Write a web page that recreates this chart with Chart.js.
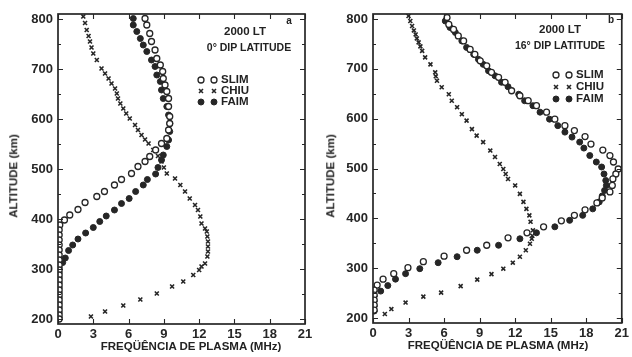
<!DOCTYPE html>
<html><head><meta charset="utf-8">
<script src="https://cdn.jsdelivr.net/npm/chart.js@4.4.1/dist/chart.umd.min.js"></script>
<style>
html,body{margin:0;padding:0;background:#fff;}
body{width:632px;height:357px;position:relative;overflow:hidden;font-family:"Liberation Sans",Arial,sans-serif;color:#222;}
.panel{position:absolute;top:0;width:316px;height:357px;}
.panel canvas{position:absolute;left:0;top:0;width:316px;height:357px;}
.t{position:absolute;font-weight:bold;white-space:nowrap;line-height:1;transform:translate(-50%,-50%);}
.l{position:absolute;font-weight:bold;white-space:nowrap;line-height:1;transform:translate(0,-50%);font-size:11.5px;}
.yt{position:absolute;font-weight:bold;white-space:nowrap;line-height:1;font-size:11.5px;transform:translate(-50%,-50%) rotate(-90deg);}
</style></head><body>
<div class="panel" style="left:0"><canvas id="ca" width="316" height="357"></canvas></div>
<div class="panel" style="left:316px"><canvas id="cb" width="316" height="357"></canvas></div>

<div class="t" style="left:245px;top:32px;font-size:11.5px">2000 LT</div>
<div class="t" style="left:249px;top:47px;font-size:10.5px">0° DIP LATITUDE</div>
<div class="t" style="left:289px;top:21px;font-size:10px">a</div>
<div class="l" style="left:221px;top:80px">SLIM</div>
<div class="l" style="left:221px;top:91px">CHIU</div>
<div class="l" style="left:221px;top:102px">FAIM</div>

<div class="t" style="left:560px;top:30px;font-size:11.5px">2000 LT</div>
<div class="t" style="left:560px;top:45px;font-size:10.5px">16° DIP LATITUDE</div>
<div class="t" style="left:611px;top:20px;font-size:10px">b</div>
<div class="l" style="left:576px;top:75px">SLIM</div>
<div class="l" style="left:576px;top:87px">CHIU</div>
<div class="l" style="left:576px;top:99px">FAIM</div>

<div class="yt" style="left:14px;top:176px">ALTITUDE (km)</div>
<div class="yt" style="left:331px;top:176px">ALTITUDE (km)</div>
<div class="t" style="left:191px;top:347px;font-size:11.5px">FREQÜÊNCIA DE PLASMA (MHz)</div>
<div class="t" style="left:498px;top:346px;font-size:11.5px">FREQÜÊNCIA DE PLASMA (MHz)</div>

<script>
// ---- tick labels ----
const xTicks = [0, 3, 6, 9, 12, 15, 18, 21];
const yTicks = [200, 300, 400, 500, 600, 700, 800];
const yMinor = [200, 250, 300, 350, 400, 450, 500, 550, 600, 650, 700, 750, 800];

// ---- panel a: 0° dip latitude (altitude km, plasma frequency MHz) ----
const slimA_alt = [801,788,771,755,738,721,708,695,681,668,655,641,625,605,591,578,561,551,538,525,515,505,491,479,468,455,445,433,419,408,398,
  388,378,368,358,348,338,328,318,308,298,288,278,268,258,248,238,228,218,208,200];
const slimA_f = [7.4,7.55,7.8,7.95,8.25,8.4,8.7,8.9,8.95,9.1,9.25,9.4,9.4,9.5,9.5,9.4,9.25,8.8,8.3,7.8,7.4,6.8,6.25,5.4,4.8,3.95,3.3,2.3,1.7,1.0,0.55,
  0.15,0.1,0.1,0.1,0.1,0.1,0.1,0.1,0.1,0.1,0.1,0.1,0.1,0.1,0.1,0.1,0.1,0.1,0.1,0.1];
const chiuA_alt = [805,792,778,766,755,743,731,718,701,691,681,671,661,651,641,631,621,611,601,588,578,568,559,551,538,526,515,503,491,481,468,455,441,428,418,405,391,381,375,365,355,345,335,325,311,305,298,288,275,265,251,239,227,215,205];
const chiuA_f = [2.15,2.3,2.44,2.6,2.72,2.85,3.0,3.3,3.7,4.0,4.3,4.55,4.85,5.0,5.1,5.3,5.55,5.8,6.1,6.55,6.8,7.1,7.4,7.7,8.1,8.5,8.8,9.0,9.25,9.95,10.4,10.8,11.2,11.65,11.9,12.1,12.2,12.5,12.65,12.7,12.75,12.75,12.75,12.7,12.5,12.2,12.0,11.5,10.65,9.7,8.4,7.0,5.55,4.0,2.8];
const faimA_alt = [801,788,775,761,748,735,718,705,688,675,658,641,625,608,591,575,558,545,528,518,503,490,479,468,455,441,431,418,406,395,383,372,360,348,337,322,313,
  303,293,283,273,263,253,243,233,223,213,203];
const faimA_f = [6.4,6.4,6.7,7.0,7.25,7.55,7.95,8.25,8.4,8.7,8.8,8.95,9.25,9.4,9.5,9.5,9.4,9.25,8.95,8.8,8.5,8.3,7.6,7.25,6.6,6.05,5.4,4.8,4.1,3.55,3.0,2.35,1.7,1.25,0.9,0.62,0.4,
  0.1,0.1,0.1,0.1,0.1,0.1,0.1,0.1,0.1,0.1,0.1];

// ---- panel b: 16° dip latitude ----
const slimB_alt = [803,789,779,766,756,739,729,716,706,693,683,673,656,646,636,626,613,599,586,576,564,549,537,526,513,499,489,479,466,453,441,431,417,406,395,383,371,361,346,336,324,313,301,289,278,266,256,246,236,226,216];
const slimB_f = [6.25,6.4,6.8,7.2,7.65,8.2,8.6,9.05,9.6,10.0,10.6,11.15,11.7,12.4,13.1,13.8,14.65,15.35,16.2,17.0,17.9,18.4,19.4,20.0,20.3,20.7,20.5,20.25,20.2,20.0,19.35,18.9,17.9,17.0,15.9,14.4,13.0,11.4,9.6,7.9,6.0,4.25,2.95,1.75,0.85,0.35,0.1,0.1,0.1,0.1,0.1];
const chiuB_alt = [806,796,786,777,769,761,753,745,736,723,709,693,685,676,663,649,636,623,609,596,579,566,553,536,523,509,499,489,479,466,449,433,419,406,393,376,365,359,349,336,323,311,299,288,277,264,251,243,231,218,208];
const chiuB_f = [3.0,3.15,3.3,3.45,3.6,3.7,3.85,4.0,4.15,4.4,4.85,5.25,5.3,5.4,5.8,6.4,6.65,7.1,7.5,7.9,8.35,8.75,9.3,9.9,10.3,10.7,11.0,11.2,11.4,12.0,12.4,12.7,12.95,13.2,13.3,13.5,13.45,13.4,13.25,12.9,12.4,11.8,11.0,10.0,8.8,7.4,5.75,4.25,2.75,1.55,1.0];
const faimB_alt = [796,783,773,756,743,729,719,709,696,686,673,664,649,636,626,613,599,586,573,563,553,541,526,513,503,489,476,466,456,445,433,419,406,396,383,371,359,346,336,323,311,299,289,278,265,254,244,234,224,214];
const faimB_f = [6.1,6.5,6.95,7.5,7.9,8.5,8.9,9.3,9.75,10.3,10.85,11.4,12.3,12.8,13.5,14.1,14.9,15.6,16.2,16.8,17.45,17.8,18.3,18.85,19.3,19.5,19.65,19.7,19.55,19.35,19.1,18.55,17.7,16.6,15.35,13.8,12.4,10.6,8.8,7.1,5.5,3.95,2.75,1.9,1.25,0.65,0.1,0.1,0.1,0.1];

const INK = '#262626';
const pts = (f, a) => f.map((v, i) => ({x: v, y: a[i]}));
const styles = {
  SLIM: {pointStyle:'circle', pointRadius:3, pointBackgroundColor:'#fff', pointBorderColor:INK, pointBorderWidth:1.3},
  CHIU: {pointStyle:'crossRot', pointRadius:2.8, pointBackgroundColor:INK, pointBorderColor:INK, pointBorderWidth:1.6},
  FAIM: {pointStyle:'circle', pointRadius:3, pointBackgroundColor:INK, pointBorderColor:INK, pointBorderWidth:1}
};

function framePlugin(legendX, legendY) {
  return {
    id: 'frame',
    afterDraw(chart) {
      const ctx = chart.ctx, a = chart.chartArea, x = chart.scales.x, y = chart.scales.y;
      ctx.save();
      ctx.strokeStyle = INK;
      ctx.lineWidth = 1.7;
      ctx.strokeRect(a.left, a.top, a.right - a.left, a.bottom - a.top);
      ctx.lineWidth = 1.1;
      ctx.beginPath();
      xTicks.forEach(v => {
        const px = Math.round(x.getPixelForValue(v)) + 0.5;
        ctx.moveTo(px, a.bottom); ctx.lineTo(px, a.bottom - 5);
        ctx.moveTo(px, a.top); ctx.lineTo(px, a.top + 5);
      });
      yMinor.forEach(v => {
        const py = Math.round(y.getPixelForValue(v)) + 0.5;
        const len = v % 100 === 0 ? 5 : 3;
        ctx.moveTo(a.left, py); ctx.lineTo(a.left + len, py);
        ctx.moveTo(a.right, py); ctx.lineTo(a.right - len, py);
      });
      ctx.stroke();
      // legend symbols (two per row)
      const names = ['SLIM', 'CHIU', 'FAIM'];
      names.forEach((n, i) => {
        const s = styles[n];
        [0, 13].forEach(dx => {
          ctx.fillStyle = s.pointBackgroundColor;
          ctx.strokeStyle = s.pointBorderColor;
          ctx.lineWidth = s.pointBorderWidth;
          Chart.helpers.drawPoint(ctx, {pointStyle: s.pointStyle, radius: s.pointRadius, rotation: 0, borderWidth: s.pointBorderWidth}, legendX + dx, legendY[i]);
        });
      });
      ctx.restore();
    }
  };
}

function makeChart(id, sets, yW, xH, padR, legendX, legendY) {
  const datasets = sets.map(([name, f, a]) => Object.assign({label: name, data: pts(f, a), showLine: false}, styles[name]));
  const tickFont = {family: '"Liberation Sans", Arial, sans-serif', size: 13, weight: 'bold'};
  new Chart(document.getElementById(id), {
    type: 'scatter',
    data: {datasets},
    options: {
      responsive: false, animation: false, devicePixelRatio: 1,
      layout: {padding: {left: 0, top: 14, right: padR, bottom: 0}},
      plugins: {legend: {display: false}, tooltip: {enabled: false}, title: {display: false}},
      scales: {
        x: {
          type: 'linear', min: 0, max: 21,
          afterBuildTicks: s => { s.ticks = xTicks.map(v => ({value: v})); },
          afterFit: s => { s.height = xH; },
          grid: {display: false, drawTicks: false}, border: {display: false},
          ticks: {padding: 3, font: tickFont, color: INK, maxRotation: 0, autoSkip: false}
        },
        y: {
          type: 'linear', min: 190, max: 810,
          afterBuildTicks: s => { s.ticks = yTicks.map(v => ({value: v})); },
          afterFit: s => { s.width = yW; },
          grid: {display: false, drawTicks: false}, border: {display: false},
          ticks: {padding: 5, font: tickFont, color: INK, autoSkip: false}
        }
      }
    },
    plugins: [framePlugin(legendX, legendY)]
  });
}

makeChart('ca', [['SLIM', slimA_f, slimA_alt], ['CHIU', chiuA_f, chiuA_alt], ['FAIM', faimA_f, faimA_alt]],
  58, 33, 11, 201, [80, 91, 102]);
makeChart('cb', [['SLIM', slimB_f, slimB_alt], ['CHIU', chiuB_f, chiuB_alt], ['FAIM', faimB_f, faimB_alt]],
  57, 34, 9, 240, [75, 87, 99]);
</script>
</body></html>
